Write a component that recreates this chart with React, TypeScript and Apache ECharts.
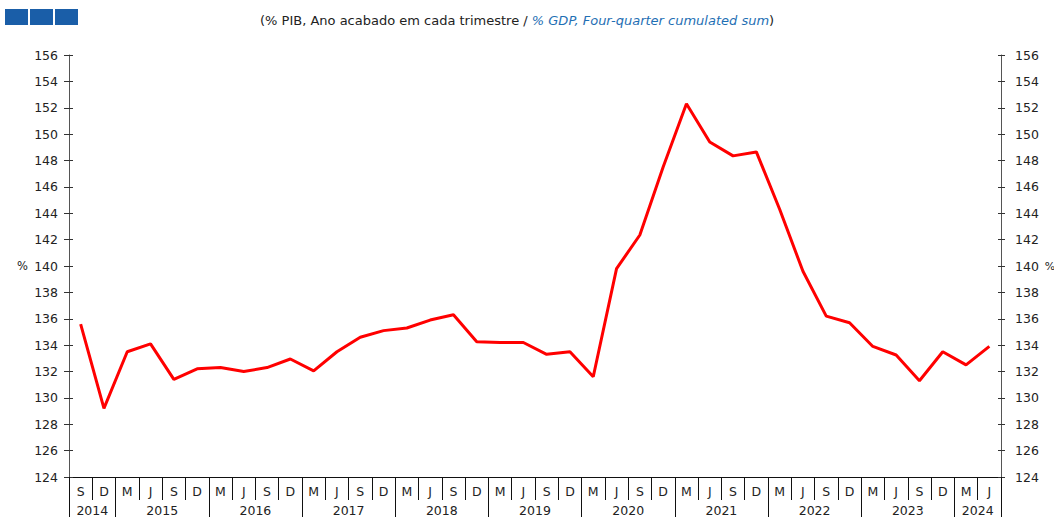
import React, { useEffect, useRef } from "react";
import * as echarts from "echarts";

const quarters = [
  "S", "D",
  "M", "J", "S", "D",
  "M", "J", "S", "D",
  "M", "J", "S", "D",
  "M", "J", "S", "D",
  "M", "J", "S", "D",
  "M", "J", "S", "D",
  "M", "J", "S", "D",
  "M", "J", "S", "D",
  "M", "J", "S", "D",
  "M", "J",
];

const debtValues = [
  135.6, 129.2,
  133.5, 134.1, 131.4, 132.2,
  132.3, 132.0, 132.3, 132.95,
  132.05, 133.5, 134.6, 135.1,
  135.3, 135.9, 136.3, 134.25,
  134.2, 134.2, 133.3, 133.5,
  131.6, 139.8, 142.35, 147.5,
  152.3, 149.4, 148.35, 148.65,
  144.3, 139.6, 136.2, 135.7,
  133.9, 133.25, 131.3, 133.5,
  132.5, 133.9,
];

// year labels placed on quarter boundaries (41 boundary slots)
const yearNames = ["2014", "2015", "2016", "2017", "2018", "2019", "2020", "2021", "2022", "2023", "2024"];
const yearLabelSlots = [1, 4, 8, 12, 16, 20, 24, 28, 32, 36, 39];
const yearBoundarySlots = [0, 2, 6, 10, 14, 18, 22, 26, 30, 34, 38, 40];

const yMin = 124;
const yMax = 156;
const yStep = 2;

const titleBlack = "(% PIB, Ano acabado em cada trimestre / ";
const titleBlue = "% GDP, Four-quarter cumulated sum";

export default function App() {
  const ref = useRef<HTMLDivElement>(null);

  useEffect(() => {
    document.body.style.margin = "0";
    document.body.style.overflow = "hidden";
    document.documentElement.style.overflow = "hidden";
    if (!ref.current) return;
    const chart = echarts.init(ref.current, undefined, { renderer: "svg", width: 1054, height: 517 });

    const boundaryCats: string[] = [];
    for (let i = 0; i <= quarters.length; i++) {
      const k = yearLabelSlots.indexOf(i);
      boundaryCats.push(k >= 0 ? yearNames[k] : "s" + i);
    }

    const font = "DejaVu Sans";
    const labelColor = "#222";
    const axisGray = "#555";

    const baseY = {
      type: "value",
      min: yMin,
      max: yMax,
      interval: yStep,
      splitLine: { show: false },
    };

    chart.setOption({
      animation: false,
      backgroundColor: "#fff",
      title: {
        left: 255,
        top: 9,
        text: "{a|" + titleBlack + "}{b|" + titleBlue + "}{a|)}",
        textStyle: {
          rich: {
            a: { color: "#222", fontSize: 13, fontWeight: "normal", fontFamily: font },
            b: { color: "#1f6fb4", fontSize: 13, fontWeight: "normal", fontFamily: font, fontStyle: "italic" },
          },
        },
      },
      graphic: [
        { type: "rect", shape: { x: 5, y: 9, width: 23, height: 16 }, style: { fill: "#1a5ea8" } },
        { type: "rect", shape: { x: 30, y: 9, width: 23, height: 16 }, style: { fill: "#1a5ea8" } },
        { type: "rect", shape: { x: 55, y: 9, width: 23, height: 16 }, style: { fill: "#1a5ea8" } },
      ],
      grid: { left: 69, right: 53, top: 55, bottom: 40, containLabel: false, outerBoundsMode: "none" },
      xAxis: [
        {
          type: "category",
          data: quarters,
          boundaryGap: true,
          position: "bottom",
          axisLine: { show: true, onZero: false, lineStyle: { color: "#111", width: 1 } },
          axisTick: { show: true, interval: 0, length: 23, lineStyle: { color: "#111", width: 1 } },
          axisLabel: { interval: 0, margin: 8, color: labelColor, fontSize: 12.5, fontFamily: font },
          splitLine: { show: false },
        },
        {
          type: "category",
          data: boundaryCats,
          boundaryGap: false,
          position: "bottom",
          offset: 0,
          axisLine: { show: false, onZero: false },
          axisTick: {
            show: true,
            length: 42,
            interval: (i: number) => yearBoundarySlots.indexOf(i) >= 0,
            lineStyle: { color: "#111", width: 1 },
          },
          axisLabel: {
            margin: 27,
            color: labelColor,
            fontSize: 12.5,
            fontFamily: font,
            interval: (i: number) => yearLabelSlots.indexOf(i) >= 0,
          },
          splitLine: { show: false },
        },
      ],
      yAxis: [
        {
          ...baseY,
          position: "left",
          name: "%",
          nameLocation: "middle",
          nameRotate: 0,
          nameGap: 41,
          nameTextStyle: { color: labelColor, fontSize: 11.5, fontFamily: font },
          axisLine: { show: true, lineStyle: { color: axisGray } },
          axisTick: { show: true, length: 5, lineStyle: { color: "#333" } },
          axisLabel: { margin: 11, color: labelColor, fontSize: 12.5, fontFamily: font },
        },
        {
          ...baseY,
          position: "right",
          name: "%",
          nameLocation: "middle",
          nameRotate: 0,
          nameGap: 40,
          nameTextStyle: { color: labelColor, fontSize: 11, fontFamily: font, padding: [6, 0, 0, 0] },
          axisLine: { show: true, lineStyle: { color: axisGray } },
          axisTick: { show: true, length: 4, lineStyle: { color: "#333" } },
          axisLabel: { margin: 14, color: labelColor, fontSize: 12.5, fontFamily: font },
        },
        {
          ...baseY,
          position: "left",
          axisLine: { show: false },
          axisTick: { show: true, inside: true, length: 4, lineStyle: { color: "#333" } },
          axisLabel: { show: false },
        },
        {
          ...baseY,
          position: "right",
          axisLine: { show: false },
          axisTick: { show: true, inside: true, length: 3, lineStyle: { color: "#333" } },
          axisLabel: { show: false },
        },
      ],
      series: [
        {
          type: "line",
          xAxisIndex: 0,
          yAxisIndex: 0,
          data: debtValues,
          showSymbol: false,
          symbol: "none",
          lineStyle: { color: "#ff0000", width: 3 },
          itemStyle: { color: "#ff0000" },
        },
      ],
    });

    return () => chart.dispose();
  }, []);

  return (
    <div
      ref={ref}
      style={{ position: "fixed", left: 0, top: 0, width: 1054, height: 517 }}
    />
  );
}
